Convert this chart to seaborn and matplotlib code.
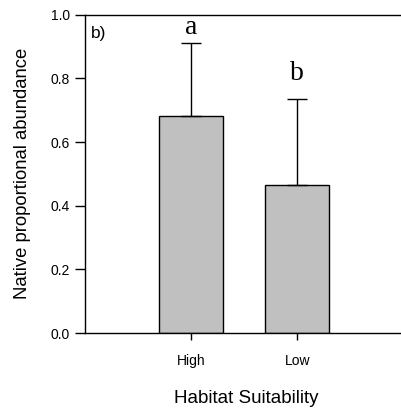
import seaborn as sns
import matplotlib.pyplot as plt
import pandas as pd

categories = ["High", "Low"]
means = [0.682, 0.465]
errors = [0.228, 0.269]
letters = ["a", "b"]
letter_y = [0.94, 0.795]

sns.set_style("ticks")
plt.rcParams['font.family'] = ['Liberation Sans', 'DejaVu Sans']
plt.rcParams['text.color'] = 'black'
plt.rcParams['axes.labelcolor'] = 'black'
plt.rcParams['xtick.color'] = 'black'
plt.rcParams['ytick.color'] = 'black'

df = pd.DataFrame({"suitability": categories, "abundance": means})

fig = plt.figure(figsize=(4.02, 4.13), dpi=100)
ax = fig.add_axes([0.2114, 0.1937, 0.80, 0.7707])

sns.barplot(data=df, x="suitability", y="abundance", order=categories,
            color="#c0c0c0", edgecolor="black", linewidth=1.0, width=0.6,
            saturation=1, errorbar=None, ax=ax)

# upper error bars only
ax.errorbar(range(len(categories)), means, yerr=[[0] * len(errors), errors],
            fmt="none", ecolor="black", elinewidth=1.0, capsize=7, capthick=1.0)

for i, (lab, yy) in enumerate(zip(letters, letter_y)):
    ax.text(i, yy, lab, ha="center", va="baseline", fontsize=20, color="black",
            family=["Liberation Serif", "DejaVu Serif"])

ax.text(0.02, 0.965, "b)", transform=ax.transAxes, ha="left", va="top",
        fontsize=12.5, color="black")

ax.set_xlim(-1, 2.03)
ax.set_ylim(0, 1.0)
ax.set_yticks([0, 0.2, 0.4, 0.6, 0.8, 1.0])
ax.set_yticklabels(["0.0", "0.2", "0.4", "0.6", "0.8", "1.0"])
ax.tick_params(axis="y", direction="out", length=7, width=1, labelsize=10, pad=4)
ax.tick_params(axis="x", direction="out", length=5, width=1, labelsize=10, pad=10)

for side in ["left", "bottom", "top"]:
    ax.spines[side].set_linewidth(1.0)
    ax.spines[side].set_color("black")
ax.spines["top"].set_visible(True)
ax.spines["right"].set_visible(False)

ax.set_xlabel("Habitat Suitability", fontsize=13.5, labelpad=16)
ax.set_ylabel("Native proportional abundance", fontsize=13.3, labelpad=14)

fig.savefig("out.png", dpi=100)
